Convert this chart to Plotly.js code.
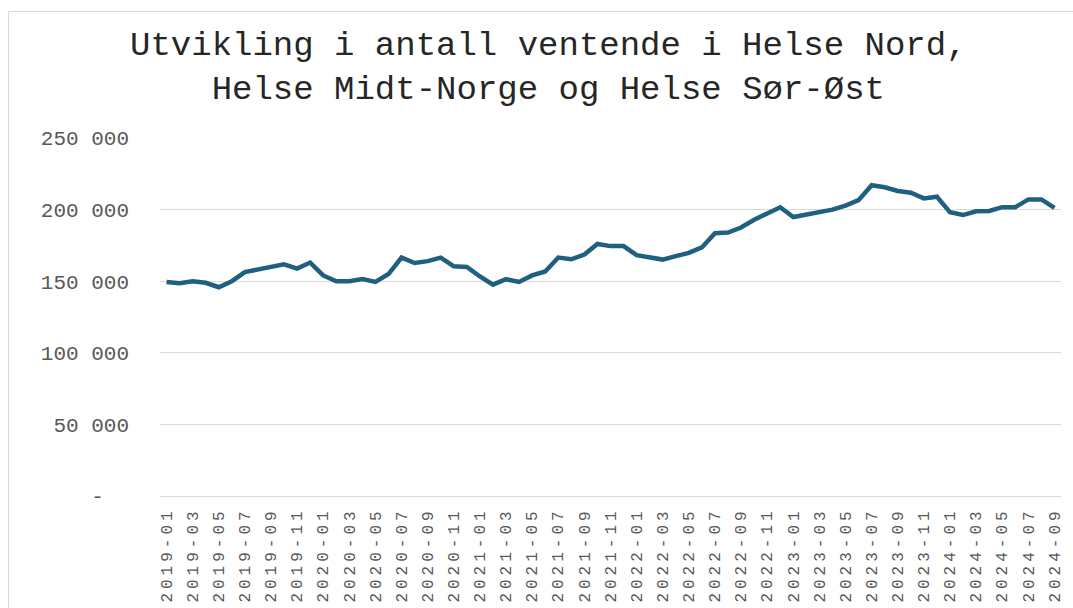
<!DOCTYPE html>
<html>
<head>
<meta charset="utf-8">
<script src="https://cdn.plot.ly/plotly-3.0.1.min.js"></script>
<style>
  html, body { margin: 0; padding: 0; background: #ffffff; }
  #wrap { position: relative; width: 1073px; height: 608px; overflow: hidden; }
  #chart { position: absolute; left: 0; top: 0; width: 1073px; height: 608px; }
  #frame { position: absolute; left: 8px; top: 11px; width: 1100px; height: 700px; border: 1px solid #d9d9d9; pointer-events: none; }
  .xtick text { letter-spacing: 4px; }
</style>
</head>
<body>
<div id="wrap">
  <div id="chart"></div>
  <div id="frame"></div>
</div>
<script>
const months = [
  "2019-01","2019-02","2019-03","2019-04","2019-05","2019-06","2019-07","2019-08","2019-09","2019-10","2019-11","2019-12",
  "2020-01","2020-02","2020-03","2020-04","2020-05","2020-06","2020-07","2020-08","2020-09","2020-10","2020-11","2020-12",
  "2021-01","2021-02","2021-03","2021-04","2021-05","2021-06","2021-07","2021-08","2021-09","2021-10","2021-11","2021-12",
  "2022-01","2022-02","2022-03","2022-04","2022-05","2022-06","2022-07","2022-08","2022-09","2022-10","2022-11","2022-12",
  "2023-01","2023-02","2023-03","2023-04","2023-05","2023-06","2023-07","2023-08","2023-09","2023-10","2023-11","2023-12",
  "2024-01","2024-02","2024-03","2024-04","2024-05","2024-06","2024-07","2024-08","2024-09"
];

const ventende = [
  149500,148600,150000,148900,145800,150000,156400,158000,159400,161800,158800,163000,
  154000,150000,150000,151500,149500,155000,166500,162700,164000,166500,160400,160000,
  153300,147600,151400,149500,154000,156800,166500,165300,168600,176000,174500,174500,
  168200,167000,165100,167500,169800,173600,183500,184000,187500,192900,197600,201600,
  194800,196500,198800,200000,202800,206600,217000,215600,213000,211800,207800,209000,
  198100,196200,198800,199100,201700,201700,207100,207100,201200
];

const xTickVals = months.filter((m, i) => i % 2 === 0);
const yTickVals = [0, 50000, 100000, 150000, 200000, 250000];
const yTickText = ["\u00a0\u00a0\u00a0\u00a0-\u00a0\u00a0", "50 000", "100 000", "150 000", "200 000", "250 000"];
const titleText = "Utvikling i antall ventende i Helse Nord,<br>Helse Midt-Norge og Helse Sør-Øst";

const trace = {
  type: "scatter",
  mode: "lines",
  x: months,
  y: ventende,
  line: { color: "#1f6080", width: 4.5 },
  hoverinfo: "x+y"
};

const layout = {
  width: 1073,
  height: 608,
  paper_bgcolor: "rgba(0,0,0,0)",
  plot_bgcolor: "#ffffff",
  margin: { l: 160, r: 12, t: 138, b: 112 },
  showlegend: false,
  title: {
    text: titleText,
    font: { family: "Liberation Mono, Courier New, monospace", size: 34, color: "#262626" },
    xref: "container", yref: "container",
    x: 0.511, xanchor: "center",
    y: 0.91, yanchor: "top"
  },
  xaxis: {
    type: "category",
    categoryorder: "array",
    categoryarray: months,
    range: [-0.5, 68.5],
    tickmode: "array",
    tickvals: xTickVals,
    ticktext: xTickVals,
    tickangle: -90,
    tickfont: { family: "Liberation Mono, Courier New, monospace", size: 16, color: "#595959" },
    showgrid: false,
    zeroline: false,
    showline: true,
    linecolor: "#d9d9d9",
    linewidth: 1,
    ticks: "",
    ticklabelstandoff: 4
  },
  yaxis: {
    range: [0, 250000],
    tickmode: "array",
    tickvals: yTickVals,
    ticktext: yTickText,
    tickfont: { family: "Liberation Mono, Courier New, monospace", size: 21, color: "#595959" },
    showgrid: true,
    gridcolor: "#d9d9d9",
    gridwidth: 1,
    zeroline: false,
    showline: false,
    ticks: "",
    ticklabelstandoff: 30
  }
};

Plotly.newPlot("chart", [trace], layout, { displayModeBar: false, staticPlot: true });
</script>
</body>
</html>
